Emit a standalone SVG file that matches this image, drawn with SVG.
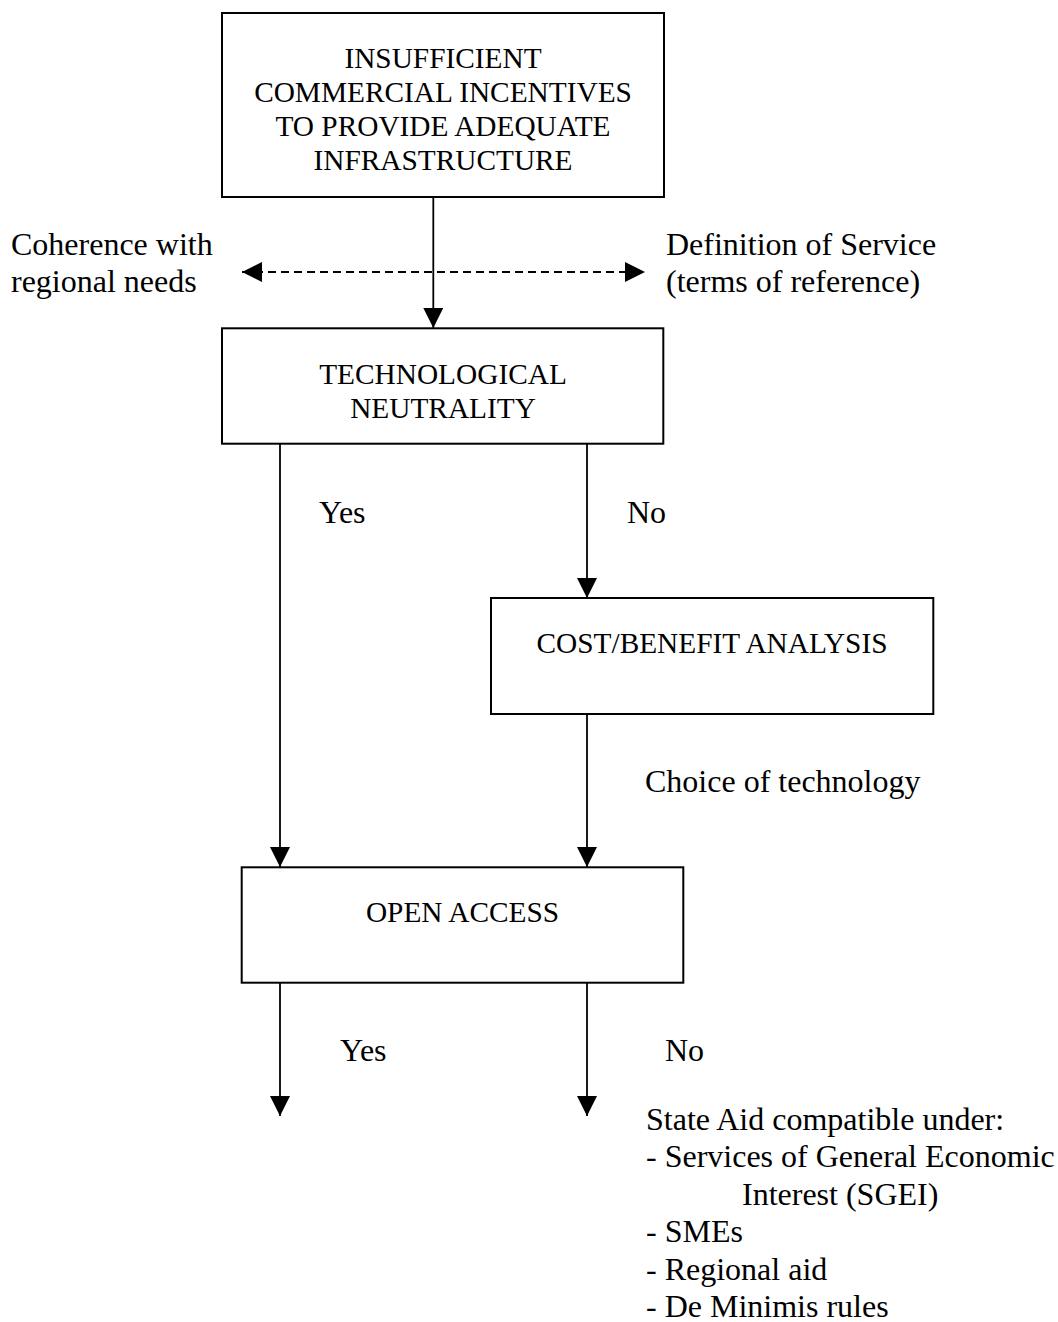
<svg xmlns="http://www.w3.org/2000/svg" width="1058" height="1322" viewBox="0 0 1058 1322">
<style>
  text { font-family: "Liberation Serif", "Times New Roman", serif; fill: #000; }
  .box { fill: #fff; stroke: #000; stroke-width: 2; }
  .bt { font-size: 29.33px; text-anchor: middle; }
  .lb { font-size: 32px; }
  .ln { fill: none; stroke: #000; stroke-width: 1.8; }
  .dash { fill: none; stroke: #000; stroke-width: 1.8; stroke-dasharray: 8 5; }
</style>
<defs>
  <marker id="ah" viewBox="0 0 20 20" refX="20" refY="10" markerWidth="20" markerHeight="20" markerUnits="userSpaceOnUse" orient="auto-start-reverse">
    <path d="M0,0 L20,10 L0,20 Z" fill="#000"/>
  </marker>
</defs>
<rect width="1058" height="1322" fill="#fff"/>

<g id="connectors">
  <line class="dash" x1="242" y1="272" x2="645" y2="272" marker-start="url(#ah)" marker-end="url(#ah)"/>
  <line class="ln" x1="433.3" y1="197" x2="433.3" y2="328" marker-end="url(#ah)"/>
  <line class="ln" x1="280" y1="444" x2="280" y2="867" marker-end="url(#ah)"/>
  <line class="ln" x1="587" y1="444" x2="587" y2="598" marker-end="url(#ah)"/>
  <line class="ln" x1="587" y1="714" x2="587" y2="867" marker-end="url(#ah)"/>
  <line class="ln" x1="280" y1="983" x2="280" y2="1116" marker-end="url(#ah)"/>
  <line class="ln" x1="587" y1="983" x2="587" y2="1116" marker-end="url(#ah)"/>
</g>

<g id="labels">
  <text class="lb" x="11" y="255">Coherence with</text>
  <text class="lb" x="11" y="292">regional needs</text>
  <text class="lb" x="666" y="255">Definition of Service</text>
  <text class="lb" x="666" y="292">(terms of reference)</text>
  <text class="lb" x="319" y="523">Yes</text>
  <text class="lb" x="627" y="523">No</text>
  <text class="lb" x="645" y="792">Choice of technology</text>
  <text class="lb" x="340" y="1061">Yes</text>
  <text class="lb" x="665" y="1061">No</text>
  <text class="lb" x="646" y="1129.5">State Aid compatible under:</text>
  <text class="lb" x="646" y="1167">- Services of General Economic</text>
  <text class="lb" x="742" y="1204.5">Interest (SGEI)</text>
  <text class="lb" x="646" y="1242">- SMEs</text>
  <text class="lb" x="646" y="1279.5">- Regional aid</text>
  <text class="lb" x="646" y="1317">- De Minimis rules</text>
</g>

<g id="node-insufficient">
  <rect class="box" x="222" y="13" width="442" height="184"/>
  <text class="bt" x="443" y="68">INSUFFICIENT</text>
  <text class="bt" x="443" y="102">COMMERCIAL INCENTIVES</text>
  <text class="bt" x="443" y="136">TO PROVIDE ADEQUATE</text>
  <text class="bt" x="443" y="170">INFRASTRUCTURE</text>
</g>

<g id="node-technological">
  <rect class="box" x="222" y="328.3" width="441.3" height="115.4"/>
  <text class="bt" x="443" y="384">TECHNOLOGICAL</text>
  <text class="bt" x="443" y="418">NEUTRALITY</text>
</g>

<g id="node-costbenefit">
  <rect class="box" x="491" y="598" width="442.3" height="116"/>
  <text class="bt" x="712" y="653">COST/BENEFIT ANALYSIS</text>
</g>

<g id="node-openaccess">
  <rect class="box" x="241.7" y="867.3" width="441.6" height="115.4"/>
  <text class="bt" x="462.5" y="922">OPEN ACCESS</text>
</g>
</svg>
